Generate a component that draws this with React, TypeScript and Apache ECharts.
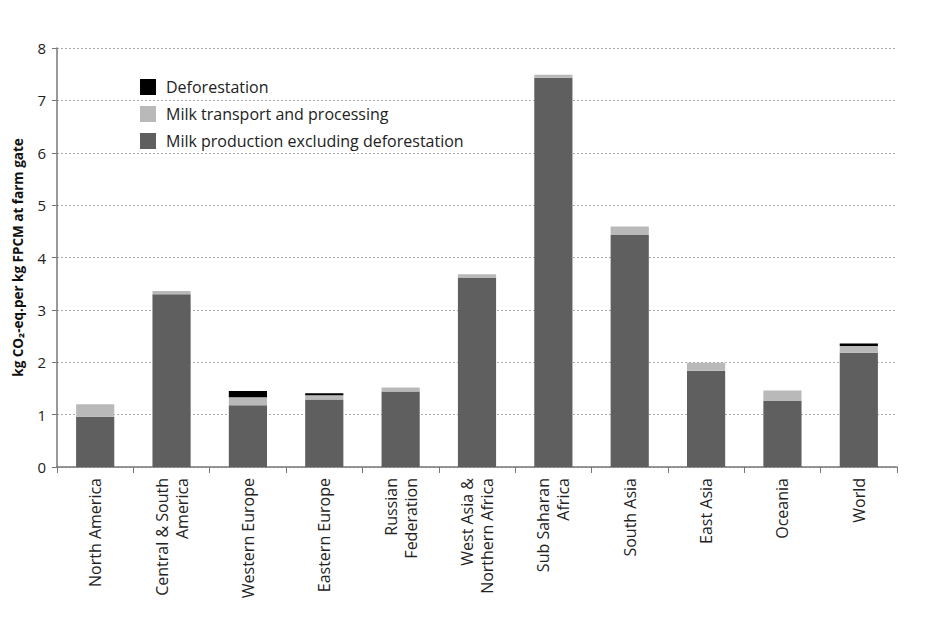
import React, { useEffect, useRef } from "react";
import * as echarts from "echarts";

const categories = [
  "North America",
  "Central & South\nAmerica",
  "Western Europe",
  "Eastern Europe",
  "Russian\nFederation",
  "West Asia &\nNorthern Africa",
  "Sub Saharan\nAfrica",
  "South Asia",
  "East Asia",
  "Oceania",
  "World",
];

const production = [0.96, 3.3, 1.18, 1.29, 1.44, 3.61, 7.43, 4.43, 1.84, 1.26, 2.18];
const transport = [0.24, 0.06, 0.15, 0.08, 0.08, 0.07, 0.06, 0.16, 0.15, 0.2, 0.13];
const deforestation = [0, 0, 0.12, 0.04, 0, 0, 0, 0, 0, 0, 0.05];

const seriesNames = [
  "Deforestation",
  "Milk transport and processing",
  "Milk production excluding deforestation",
];

const yTicks = { min: 0, max: 8, interval: 1 };

export default function App() {
  const ref = useRef<HTMLDivElement>(null);
  useEffect(() => {
    if (!ref.current) return;
    const chart = echarts.init(ref.current, undefined, { renderer: "svg" });
    const font = "'Open Sans', 'Noto Sans', sans-serif";
    chart.setOption({
      animation: false,
      backgroundColor: "#ffffff",
      textStyle: { fontFamily: font },
      grid: { left: 57, right: 53, top: 48, bottom: 151 },
      legend: {
        orient: "vertical",
        left: 135,
        top: 74,
        itemWidth: 16,
        itemHeight: 16,
        itemGap: 11,
        icon: "rect",
        data: seriesNames,
        textStyle: { fontSize: 16, color: "#222", fontFamily: font, padding: [0, 0, 0, 5] },
      },
      xAxis: {
        type: "category",
        data: categories,
        boundaryGap: true,
        axisLine: { lineStyle: { color: "#777", width: 1.5 } },
        axisTick: { show: true, inside: false, length: 6, alignWithLabel: false, lineStyle: { color: "#777" } },
        axisLabel: {
          rotate: 90,
          interval: 0,
          fontSize: 16,
          color: "#222",
          margin: 11,
          lineHeight: 20,
          fontFamily: font,
        },
      },
      yAxis: {
        type: "value",
        min: yTicks.min,
        max: yTicks.max,
        interval: yTicks.interval,
        name: "kg CO\u2082-eq.per kg FPCM at farm gate",
        nameLocation: "middle",
        nameGap: 32,
        nameRotate: 90,
        nameTextStyle: { fontSize: 13.5, fontWeight: "bold", color: "#111", fontFamily: font },
        axisLine: { show: true, lineStyle: { color: "#777", width: 1.5 } },
        axisTick: { show: true, length: 5, lineStyle: { color: "#777" } },
        axisLabel: { fontSize: 15, color: "#222", margin: 11, fontFamily: font },
        splitLine: { show: true, lineStyle: { color: "#aaa", type: [2, 2], width: 1 } },
      },
      series: [
        {
          name: seriesNames[2],
          type: "bar",
          stack: "total",
          barWidth: "50%",
          data: production,
          itemStyle: { color: "#5f5f5f" },
        },
        {
          name: seriesNames[1],
          type: "bar",
          stack: "total",
          data: transport,
          itemStyle: { color: "#b9b9b9" },
        },
        {
          name: seriesNames[0],
          type: "bar",
          stack: "total",
          data: deforestation,
          itemStyle: { color: "#000000" },
        },
      ],
    });
    return () => chart.dispose();
  }, []);
  return (
    <div
      ref={ref}
      style={{ position: "absolute", left: 0, top: 0, width: 950, height: 618 }}
    />
  );
}
